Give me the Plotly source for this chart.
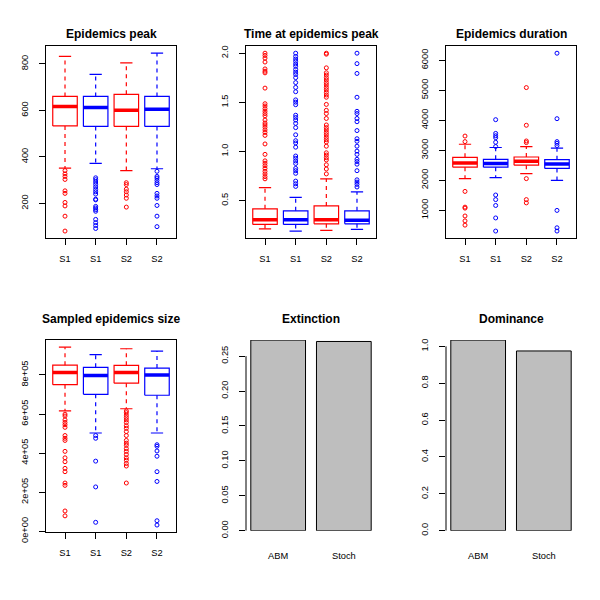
import plotly.graph_objects as go

RED = "#FF0000"
BLUE = "#0000FF"
GREY = "#BEBEBE"
FONT = "Liberation Sans, Arial, sans-serif"

box_labels = ["S1", "S1", "S2", "S2"]
box_colors = [RED, BLUE, RED, BLUE]

# Epidemics peak
peak_lower = [352, 372, 341, 349]
peak_q1 = [533, 531, 531, 531]
peak_med = [617, 612, 601, 605]
peak_q3 = [660, 660, 669, 660]
peak_upper = [832, 755, 804, 846]
peak_out = [
    [341, 327, 316, 303, 254, 243, 204, 189, 145, 81],
    [310, 302, 292, 282, 271, 260, 250, 240, 218, 215, 187, 180, 173, 166, 131, 117, 105, 92],
    [289, 281, 261, 250, 236, 222, 184],
    [338, 316, 309, 299, 289, 281, 243, 232, 222, 191, 145, 100],
]

# Time at epidemics peak
time_lower = [0.214, 0.191, 0.198, 0.208]
time_q1 = [0.258, 0.258, 0.264, 0.264]
time_med = [0.307, 0.307, 0.307, 0.301]
time_q3 = [0.417, 0.397, 0.447, 0.397]
time_upper = [0.633, 0.533, 0.722, 0.589]
time_out = [
    [2.0, 1.977, 1.95, 1.91, 1.84, 1.817, 1.80, 1.645, 1.486, 1.463, 1.436, 1.41, 1.386, 1.363,
     1.32, 1.29, 1.27, 1.247, 1.22, 1.194, 1.164, 1.077, 0.971, 0.905, 0.881, 0.855, 0.828,
     0.798, 0.772, 0.745, 0.722],
    [2.0, 1.967, 1.94, 1.917, 1.89, 1.867, 1.834, 1.807, 1.784, 1.751, 1.701, 1.652, 1.608,
     1.525, 1.502, 1.476, 1.369, 1.346, 1.32, 1.286, 1.243, 1.17, 1.11, 1.087, 1.044, 0.954,
     0.931, 0.904, 0.878, 0.828, 0.805, 0.778, 0.699, 0.672, 0.645],
    [2.0, 1.99, 1.851, 1.801, 1.778, 1.751, 1.728, 1.701, 1.678, 1.652, 1.628, 1.602, 1.575,
     1.552, 1.479, 1.419, 1.386, 1.336, 1.27, 1.243, 1.22, 1.194, 1.17, 1.144, 1.12, 1.097,
     1.054, 0.987, 0.964, 0.937, 0.914, 0.865, 0.822, 0.772],
    [2.0, 1.894, 1.794, 1.552, 1.409, 1.386, 1.336, 1.303, 1.213, 1.13, 1.104, 1.054, 1.004,
     0.971, 0.921, 0.898, 0.871, 0.805, 0.712, 0.689, 0.666, 0.639],
]

# Epidemics duration
dur_lower = [2059, 2092, 2223, 2004]
dur_q1 = [2441, 2441, 2507, 2398]
dur_med = [2583, 2561, 2638, 2550]
dur_q3 = [2769, 2703, 2780, 2692]
dur_upper = [3205, 3096, 3129, 3074]
dur_out = [
    [3478, 3293, 1633, 1109, 1076, 814, 651, 509],
    [4024, 3566, 3489, 3424, 3271, 3129, 1513, 1360, 1164, 749, 312],
    [5094, 3838, 3314, 3260, 2059, 1360, 1251],
    [6240, 4057, 3293, 3238, 3162, 1000, 421, 312],
]

# Sampled epidemics size
size_lower = [616e3, 503e3, 627e3, 503e3]
size_q1 = [750e3, 701e3, 758e3, 696e3]
size_med = [813e3, 797e3, 812e3, 800e3]
size_q3 = [850e3, 839e3, 849e3, 835e3]
size_upper = [942e3, 904e3, 934e3, 922e3]
size_out = [
    [599e3, 590e3, 570e3, 557e3, 545e3, 532e3, 490e3, 476e3, 465e3, 409e3, 376e3, 356e3,
     322e3, 305e3, 247e3, 235e3, 104e3, 79e3],
    [490e3, 476e3, 359e3, 227e3, 46e3],
    [616e3, 607e3, 594e3, 582e3, 570e3, 557e3, 540e3, 527e3, 510e3, 490e3, 465e3, 451e3,
     440e3, 423e3, 409e3, 393e3, 376e3, 364e3, 347e3, 334e3, 247e3],
    [443e3, 435e3, 411e3, 384e3, 305e3, 255e3, 54e3, 32e3],
]

bar_labels = ["ABM", "Stoch"]
extinction = [0.273, 0.271]
dominance = [1.034, 0.975]

fig = go.Figure()


def dom_x(col):
    return [(46 + 200 * col) / 600, (176 + 200 * col) / 600]


def dom_y(row, bottom=242):
    return [1 - (bottom + 300 * row) / 600, 1 - (46 + 300 * row) / 600]


def sfx(n):
    return "" if n == 1 else str(n)


axis_font = dict(family=FONT, size=9.3, color="black")


def boxpanel(n, row, col, title, lower, q1, med, q3, upper, outs, tickvals, ticktext):
    xa, ya = "x" + sfx(n), "y" + sfx(n)
    for i in range(4):
        x = i + 1
        c = box_colors[i]
        hw, sw = 0.4, 0.2
        # box + staples
        fig.add_trace(go.Scatter(
            x=[x - hw, x + hw, x + hw, x - hw, x - hw, None, x - sw, x + sw, None, x - sw, x + sw],
            y=[q1[i], q1[i], q3[i], q3[i], q1[i], None, upper[i], upper[i], None, lower[i], lower[i]],
            mode="lines", line=dict(color=c, width=1.2), xaxis=xa, yaxis=ya,
            showlegend=False, hoverinfo="skip"))
        # whiskers
        fig.add_trace(go.Scatter(
            x=[x, x, None, x, x], y=[q3[i], upper[i], None, q1[i], lower[i]],
            mode="lines", line=dict(color=c, width=1.2, dash="4px,4px"), xaxis=xa, yaxis=ya,
            showlegend=False, hoverinfo="skip"))
        # median
        fig.add_trace(go.Scatter(
            x=[x - hw, x + hw], y=[med[i], med[i]],
            mode="lines", line=dict(color=c, width=3.5), xaxis=xa, yaxis=ya,
            showlegend=False, hoverinfo="skip"))
        fig.add_trace(go.Scatter(
            x=[x] * len(outs[i]), y=outs[i], mode="markers",
            marker=dict(symbol="circle-open", size=4, color=c, line=dict(width=1)),
            xaxis=xa, yaxis=ya, showlegend=False))
    vals = [v for o in outs for v in o] + lower + upper
    lo, hi = min(vals), max(vals)
    pad = (hi - lo) * 0.04
    ax_common = dict(showline=True, mirror=True, linecolor="black", linewidth=1,
                     ticks="outside", ticklen=6, tickcolor="black", showgrid=False,
                     zeroline=False, tickfont=axis_font)
    fig.layout["xaxis" + sfx(n)] = dict(domain=dom_x(col), range=[0.38, 4.62], anchor=ya,
                                        tickvals=[1, 2, 3, 4], ticktext=box_labels,
                                        ticklabelstandoff=6, **ax_common)
    fig.layout["yaxis" + sfx(n)] = dict(domain=dom_y(row), range=[lo - pad, hi + pad], anchor=xa,
                                        tickvals=tickvals, ticktext=ticktext, tickangle=-90,
                                        ticklabelstandoff=7, **ax_common)
    fig.add_annotation(text="<b>%s</b>" % title, xref=xa + " domain", x=0.5,
                       yref="paper", y=1 - (24 + 300 * row) / 600, showarrow=False,
                       font=dict(family=FONT, size=12, color="black"))


def barpanel(n, row, col, title, values, tickvals, fmt):
    xa, ya = "x" + sfx(n), "y" + sfx(n)
    centers = [0.7 + 1.2 * i for i in range(len(values))]
    fig.add_trace(go.Bar(x=centers, y=values, width=1, xaxis=xa, yaxis=ya,
                         marker=dict(color=GREY, line=dict(color="black", width=1)),
                         showlegend=False))
    fig.layout["xaxis" + sfx(n)] = dict(domain=dom_x(col), range=[0.112, 2.488], anchor=ya,
                                        tickvals=centers, ticktext=bar_labels, ticks="",
                                        showline=False, showgrid=False, zeroline=False,
                                        tickfont=axis_font, ticklabelstandoff=18)
    fig.layout["yaxis" + sfx(n)] = dict(domain=dom_y(row, bottom=240.5), range=[0, max(values)],
                                        anchor=xa, tickvals=tickvals,
                                        ticktext=[fmt % v for v in tickvals], tickangle=-90,
                                        ticks="outside", ticklen=6, tickcolor="black",
                                        showline=False, showgrid=False, zeroline=False,
                                        tickfont=axis_font, ticklabelstandoff=7)
    fig.add_shape(type="line", xref=xa + " domain", x0=0, x1=0, yref=ya,
                  y0=tickvals[0], y1=tickvals[-1], line=dict(color="black", width=1))
    fig.add_annotation(text="<b>%s</b>" % title, xref=xa + " domain", x=0.5,
                       yref="paper", y=1 - (24 + 300 * row) / 600, showarrow=False,
                       font=dict(family=FONT, size=12, color="black"))


boxpanel(1, 0, 0, "Epidemics peak", peak_lower, peak_q1, peak_med, peak_q3, peak_upper,
         peak_out, [200, 400, 600, 800], ["200", "400", "600", "800"])
boxpanel(2, 0, 1, "Time at epidemics peak", time_lower, time_q1, time_med, time_q3, time_upper,
         time_out, [0.5, 1.0, 1.5, 2.0], ["0.5", "1.0", "1.5", "2.0"])
boxpanel(3, 0, 2, "Epidemics duration", dur_lower, dur_q1, dur_med, dur_q3, dur_upper,
         dur_out, [1000, 2000, 3000, 4000, 5000, 6000],
         ["1000", "2000", "3000", "4000", "5000", "6000"])
boxpanel(4, 1, 0, "Sampled epidemics size", size_lower, size_q1, size_med, size_q3, size_upper,
         size_out, [0, 2e5, 4e5, 6e5, 8e5], ["0e+00", "2e+05", "4e+05", "6e+05", "8e+05"])
barpanel(5, 1, 1, "Extinction", extinction, [0, 0.05, 0.10, 0.15, 0.20, 0.25], "%.2f")
barpanel(6, 1, 2, "Dominance", dominance, [0, 0.2, 0.4, 0.6, 0.8, 1.0], "%.1f")

fig.update_layout(
    width=600, height=600,
    margin=dict(l=0, r=0, t=0, b=0),
    paper_bgcolor="white", plot_bgcolor="white",
    font=dict(family=FONT, color="black"),
    showlegend=False,
)

# drop the default 8px page margin so the figure sits at the window origin
fig.write_html("out.html", config={"displayModeBar": False},
               post_script="document.body.style.margin='0';")
